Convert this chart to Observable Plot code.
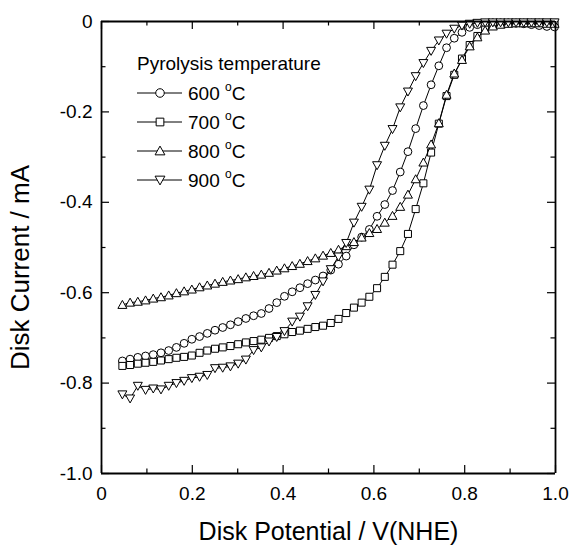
<!DOCTYPE html>
<html><head><meta charset="utf-8">
<script src="https://cdn.jsdelivr.net/npm/d3@7"></script>
<script src="https://cdn.jsdelivr.net/npm/@observablehq/plot@0.6"></script>
<style>body{margin:0;background:#fff;}</style>
</head><body><div id="chart"></div>
<script>
// Disk potential (V vs NHE)
const potential = [0.046,0.063,0.080,0.097,0.114,0.131,0.148,0.165,0.182,0.199,0.216,0.233,0.250,0.267,0.284,0.301,0.318,0.335,0.352,0.369,0.386,0.403,0.420,0.437,0.454,0.471,0.488,0.505,0.522,0.539,0.556,0.573,0.590,0.607,0.624,0.641,0.658,0.675,0.692,0.709,0.726,0.743,0.760,0.777,0.794,0.811,0.828,0.845,0.862,0.879,0.896,0.913,0.930,0.947,0.964,0.981,0.998];
// Disk current (mA) per pyrolysis temperature
const current600 = [-0.751,-0.747,-0.743,-0.740,-0.737,-0.733,-0.728,-0.721,-0.712,-0.703,-0.697,-0.690,-0.683,-0.677,-0.671,-0.664,-0.657,-0.651,-0.646,-0.635,-0.622,-0.608,-0.598,-0.589,-0.580,-0.572,-0.563,-0.550,-0.537,-0.519,-0.494,-0.477,-0.460,-0.431,-0.405,-0.374,-0.333,-0.288,-0.237,-0.186,-0.140,-0.098,-0.058,-0.037,-0.024,-0.013,-0.007,-0.004,-0.003,-0.003,-0.003,-0.004,-0.005,-0.007,-0.009,-0.011,-0.012];
const current700 = [-0.762,-0.760,-0.757,-0.755,-0.753,-0.750,-0.747,-0.744,-0.742,-0.739,-0.733,-0.728,-0.724,-0.721,-0.718,-0.714,-0.710,-0.707,-0.704,-0.700,-0.696,-0.692,-0.687,-0.684,-0.680,-0.676,-0.673,-0.667,-0.658,-0.645,-0.633,-0.622,-0.609,-0.590,-0.565,-0.538,-0.508,-0.470,-0.415,-0.358,-0.290,-0.226,-0.165,-0.118,-0.082,-0.052,-0.032,-0.018,-0.010,-0.006,-0.004,-0.003,-0.003,-0.003,-0.003,-0.003,-0.003];
const current800 = [-0.627,-0.622,-0.620,-0.617,-0.613,-0.610,-0.606,-0.601,-0.597,-0.593,-0.588,-0.584,-0.580,-0.576,-0.573,-0.570,-0.566,-0.563,-0.560,-0.556,-0.551,-0.546,-0.541,-0.536,-0.530,-0.524,-0.518,-0.512,-0.505,-0.497,-0.488,-0.478,-0.468,-0.459,-0.445,-0.430,-0.410,-0.383,-0.349,-0.312,-0.272,-0.225,-0.162,-0.115,-0.085,-0.055,-0.035,-0.020,-0.011,-0.007,-0.005,-0.004,-0.004,-0.004,-0.004,-0.005,-0.005];
const current900 = [-0.825,-0.834,-0.806,-0.815,-0.812,-0.814,-0.806,-0.800,-0.795,-0.789,-0.786,-0.782,-0.767,-0.766,-0.763,-0.757,-0.748,-0.727,-0.721,-0.708,-0.698,-0.685,-0.664,-0.653,-0.630,-0.605,-0.575,-0.548,-0.520,-0.490,-0.445,-0.410,-0.372,-0.318,-0.275,-0.238,-0.190,-0.155,-0.121,-0.092,-0.065,-0.042,-0.027,-0.016,-0.009,-0.005,-0.003,-0.002,-0.002,-0.002,-0.002,-0.002,-0.002,-0.002,-0.002,-0.002,-0.002];
const seriesLabels = ["600", "700", "800", "900"];
const legendTitle = "Pyrolysis temperature";
const xTicks = [0, 0.2, 0.4, 0.6, 0.8, 1.0];
const xTickLabels = ["0", "0.2", "0.4", "0.6", "0.8", "1.0"];
const xMinor = [0.1, 0.3, 0.5, 0.7, 0.9];
const yTicks = [0, -0.2, -0.4, -0.6, -0.8, -1.0];
const yTickLabels = ["0", "-0.2", "-0.4", "-0.6", "-0.8", "-1.0"];
const yMinor = [-0.1, -0.3, -0.5, -0.7, -0.9];
const xTitle = "Disk Potential / V(NHE)";
const yTitle = "Disk Current / mA";

const FONT = "'Liberation Sans', Arial, sans-serif";
const W = 570, H = 545, mL = 101, mR = 15, mT = 21, mB = 72;
const fw = W - mL - mR, fh = H - mT - mB;
const R = 3.9;

const symCircle = {draw(ctx, size){ const r = Math.sqrt(size/Math.PI); ctx.moveTo(r,0); ctx.arc(0,0,r,0,2*Math.PI); ctx.closePath(); }};
const symSquare = {draw(ctx, size){ const r = Math.sqrt(size/Math.PI)*0.9; ctx.rect(-r,-r,2*r,2*r); }};
const symTriUp = {draw(ctx, size){ const r = Math.sqrt(size/Math.PI); ctx.moveTo(0,-r*1.15); ctx.lineTo(r*1.15,r*0.9); ctx.lineTo(-r*1.15,r*0.9); ctx.closePath(); }};
const symTriDown = {draw(ctx, size){ const r = Math.sqrt(size/Math.PI); ctx.moveTo(0,r*1.15); ctx.lineTo(r*1.15,-r*0.9); ctx.lineTo(-r*1.15,-r*0.9); ctx.closePath(); }};
const symbols = [symCircle, symSquare, symTriUp, symTriDown];
const currents = [current600, current700, current800, current900];

const seriesData = currents.map(c => potential.map((x, i) => ({x, y: c[i]})));

const marks = [];
seriesData.forEach((d, k) => {
  marks.push(Plot.line(d, {x: "x", y: "y", stroke: "black", strokeWidth: 1}));
  marks.push(Plot.dot(d, {x: "x", y: "y", symbol: () => symbols[k], r: R, fill: "white", stroke: "black", strokeWidth: 1}));
});

const tk = {stroke: "black", strokeWidth: 1.2};
const chart = Plot.plot({
  width: W, height: H,
  marginLeft: mL, marginRight: mR, marginTop: mT, marginBottom: mB,
  style: {fontFamily: FONT, color: "black", background: "white", overflow: "visible"},
  x: {domain: [0, 1], label: null},
  y: {domain: [-1, 0], label: null},
  marks: [
    Plot.tickX(xTicks, {x: d => d, insetTop: fh - 8, ...tk}),
    Plot.tickX(xMinor, {x: d => d, insetTop: fh - 4.5, ...tk}),
    Plot.tickX(xTicks, {x: d => d, insetBottom: fh - 8, ...tk}),
    Plot.tickX(xMinor, {x: d => d, insetBottom: fh - 4.5, ...tk}),
    Plot.tickY(yTicks, {y: d => d, insetRight: fw - 8, ...tk}),
    Plot.tickY(yMinor, {y: d => d, insetRight: fw - 4.5, ...tk}),
    Plot.tickY(yTicks, {y: d => d, insetLeft: fw - 8, ...tk}),
    Plot.tickY(yMinor, {y: d => d, insetLeft: fw - 4.5, ...tk}),
    Plot.axisX(xTicks, {tickSize: 0, tickPadding: 13, fontSize: 19, tickFormat: d => xTickLabels[xTicks.indexOf(d)]}),
    Plot.axisY(yTicks, {tickSize: 0, tickPadding: 9, fontSize: 19, tickFormat: d => yTickLabels[yTicks.indexOf(d)]}),
    ...marks,
    Plot.ruleX([0, 1], {stroke: "black", strokeWidth: 1.8}),
    Plot.ruleY([-1, 0], {stroke: "black", strokeWidth: 1.8}),
    Plot.text([xTitle], {frameAnchor: "bottom", dy: 58, fontSize: 25, lineAnchor: "middle", textAnchor: "middle"}),
    Plot.text([yTitle], {frameAnchor: "left", dx: -81, dy: 20, rotate: -90, fontSize: 26, lineAnchor: "middle", textAnchor: "middle"})
  ]
});
document.getElementById("chart").appendChild(chart);

// Legend
const svg = d3.select(chart);
const lg = svg.append("g").attr("font-family", FONT).attr("fill", "black").attr("text-anchor", "start");
lg.append("text").attr("x", 137).attr("y", 70).attr("font-size", 19).text(legendTitle);
const rows = [93, 122, 151, 180];
seriesLabels.forEach((lab, k) => {
  const y = rows[k];
  lg.append("line").attr("x1", 137).attr("x2", 182).attr("y1", y).attr("y2", y).attr("stroke", "black").attr("stroke-width", 1);
  lg.append("path").attr("transform", `translate(160,${y})`)
    .attr("d", d3.symbol(symbols[k], Math.PI * R * R * 1.2)())
    .attr("fill", "white").attr("stroke", "black").attr("stroke-width", 1);
  const t = lg.append("text").attr("x", 188).attr("y", y + 7).attr("font-size", 19);
  t.append("tspan").text(lab + " ");
  t.append("tspan").attr("font-size", 12).attr("dy", -9).text("o");
  t.append("tspan").attr("dy", 9).text("C");
});
</script>
</body></html>
